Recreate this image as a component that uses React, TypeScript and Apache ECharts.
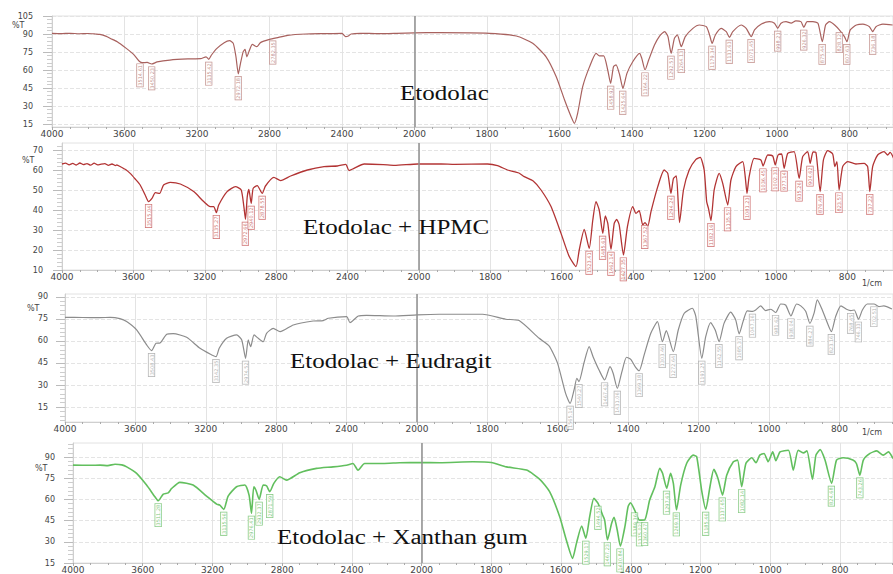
import React, { useEffect, useRef } from "react";
import * as echarts from "echarts";

// ---- Wavenumber (1/cm) vs %T ----
const etodolac: [number, number][] = [
  [4000, 90.5], [3950, 90.3], [3900, 90.6], [3850, 90.2], [3800, 90.4], [3760, 90], [3736, 89.7], [3700, 88], [3680, 86.4],
  [3640, 83.6], [3590, 78], [3550, 73], [3520, 67.5], [3500, 66.1], [3475, 66.3], [3450, 65], [3420, 66.7], [3350, 68.3],
  [3250, 69.2], [3180, 69.4], [3150, 71], [3135, 68.9], [3120, 72.5], [3090, 78], [3050, 82.8], [3020, 84.4], [3000, 82.2],
  [2985, 71], [2972, 56.7], [2960, 65.6], [2945, 75.3], [2935, 77.2], [2925, 71], [2910, 76.7], [2895, 81.4], [2870, 79.4],
  [2850, 82.8], [2800, 85.5], [2750, 87.2], [2700, 88.9], [2600, 90], [2500, 90.3], [2400, 90.6], [2380, 87.8], [2365, 88.3],
  [2350, 90], [2300, 90.6], [2200, 90.3], [2100, 90.6], [2000, 91],
  [1931, 91.1], [1793, 90.6], [1719, 88.3], [1674, 82.2], [1637, 71], [1609, 54.4], [1586, 35], [1568, 21.1], [1559, 15.6],
  [1550, 23.9], [1536, 46.1], [1517, 62.8], [1499, 73.9], [1490, 71.7], [1478, 71.7], [1467, 60], [1459, 48.9], [1451, 62.8],
  [1444, 64.2], [1434, 55.8], [1425, 44.7], [1414, 57.2], [1398, 66.9], [1379, 73.9], [1373, 69.7], [1364, 60], [1354, 68.3],
  [1338, 80.8], [1324, 88.3], [1310, 92], [1301, 88], [1292, 73.9], [1283, 86.4], [1275, 89.2], [1264, 79.4], [1253, 87.8],
  [1232, 94.7], [1214, 97.5], [1195, 96.1], [1186, 89.2], [1179, 82.2], [1170, 89.2], [1154, 94.7], [1140, 92], [1131, 87.2],
  [1122, 92], [1099, 97.5], [1085, 94.7], [1071, 87.8], [1062, 93.4], [1043, 98.3], [1021, 100.3], [1007, 99], [998, 94.7],
  [989, 99], [975, 100.3], [961, 99], [948, 101], [934, 100.3], [926, 95.6], [917, 100.3], [901, 100.3], [887, 99],
  [875, 83.6], [866, 97.5], [855, 100.3], [841, 97.5], [828, 93.4], [814, 87.8], [807, 83.6], [798, 93.4], [781, 97.5],
  [763, 98.3], [745, 96.1], [736, 92], [727, 96.1], [708, 98.3], [681, 97.5],
];

const etodolacHpmc: [number, number][] = [
  [4000, 63], [3980, 63.4], [3960, 62.6], [3940, 63.3], [3920, 62.5], [3900, 63.5], [3880, 62.7], [3860, 63.2], [3840, 62.4],
  [3820, 63.4], [3800, 62.6], [3787, 62.8], [3760, 63.2], [3740, 62.3], [3720, 63], [3700, 62.2], [3693, 62.5], [3670, 61.5],
  [3656, 60.8], [3640, 60], [3618, 58.3], [3590, 55.5], [3562, 52.5], [3534, 47.5], [3515, 44.2], [3496, 45.8], [3477, 48.7],
  [3453, 48.3], [3431, 52.5], [3393, 53.8], [3337, 53], [3262, 49.2], [3206, 44.2], [3169, 41.7], [3150, 41.7], [3135, 38.7],
  [3122, 42.5], [3075, 49.2], [3028, 51.7], [2996, 50], [2981, 41.7], [2972, 35.3], [2962, 46.7], [2953, 50.3], [2940, 43.3],
  [2929, 50.8], [2906, 52.2], [2878, 48.3], [2860, 52], [2813, 56.3], [2775, 54.7], [2719, 57], [2625, 60], [2532, 61.7],
  [2457, 62], [2410, 62.8], [2392, 59.7], [2364, 60.8], [2307, 63], [2200, 62.7], [2138, 62.3], [2007, 63],
  [1938, 63], [1900, 62.8], [1808, 63], [1780, 62.2], [1752, 60], [1720, 58.5], [1705, 56.7], [1680, 54.5], [1658, 50],
  [1630, 41.7], [1602, 28.3], [1579, 16.7], [1560, 11.7], [1551, 20], [1537, 30.3], [1523, 20.8], [1513, 35], [1504, 44.2],
  [1495, 40], [1485, 28.3], [1478, 37], [1471, 33.3], [1462, 20.3], [1453, 33.3], [1446, 35.3], [1439, 32.5], [1427, 17.5],
  [1416, 31.7], [1401, 41.7], [1392, 38.3], [1383, 39.7], [1373, 32.5], [1367, 33.7], [1359, 32], [1350, 39.2], [1331, 51.7],
  [1313, 60], [1303, 58.3], [1294, 48.3], [1287, 55.8], [1279, 57], [1270, 33.7], [1259, 50], [1243, 60], [1224, 65.3],
  [1212, 66.3], [1201, 60], [1194, 44.2], [1189, 40.8], [1182, 34.7], [1173, 50], [1159, 58.3], [1149, 53.3], [1135, 42.5],
  [1126, 55], [1112, 61.7], [1093, 64.2], [1086, 56.7], [1081, 48.3], [1075, 56.7], [1061, 65.8], [1042, 65], [1036, 62],
  [1023, 67.5], [1009, 67], [1002, 62.5], [994, 67.5], [984, 68], [977, 60.8], [967, 68.3], [949, 69.2], [935, 55.8],
  [925, 66.7], [911, 69.2], [904, 63.3], [896, 69], [888, 68.8], [876, 49.2], [867, 65], [855, 69.7], [841, 68], [835, 61.7],
  [829, 64.2], [823, 50], [813, 61.7], [799, 64.2], [776, 63], [753, 63.3], [743, 61.7], [737, 49.2], [729, 61.7], [715, 67.5],
  [697, 69.2], [687, 67.5], [680, 68.8], [670, 65.8],
];

const etodolacEudragit: [number, number][] = [
  [4000, 76.1], [3900, 76], [3801, 75.9], [3744, 76.1], [3688, 75.2], [3650, 73.2], [3593, 67.5], [3536, 57.3], [3508, 53.4],
  [3483, 58.4], [3460, 58.6], [3422, 64.6], [3385, 65], [3309, 62.5], [3233, 55], [3176, 51.1], [3142, 49.3], [3124, 55],
  [3082, 61.8], [3025, 64.1], [2996, 60.7], [2974, 48.2], [2959, 60.7], [2945, 56.1], [2926, 64.1], [2902, 61.8], [2874, 59.5],
  [2855, 65.2], [2817, 68.6], [2778, 66.3], [2703, 70.9], [2590, 73.6], [2533, 73.9], [2504, 75.5], [2400, 76.6], [2381, 72.5],
  [2334, 77], [2287, 77.5], [2135, 77], [2000, 77.8],
  [1937, 78.2], [1814, 78.2], [1748, 74.8], [1710, 73.9], [1653, 61.8], [1625, 56.6], [1601, 44.9], [1578, 24.3], [1565, 17.5],
  [1554, 26.6], [1546, 34.6], [1540, 32.3], [1526, 44.9], [1511, 56.1], [1500, 49.3], [1483, 40.2], [1467, 33.4], [1452, 42.5],
  [1443, 38], [1431, 27.7], [1418, 39.1], [1405, 48.9], [1393, 47.5], [1379, 42], [1369, 39.7], [1355, 50.4], [1336, 65.2],
  [1317, 73.2], [1303, 59.5], [1292, 67], [1272, 52.7], [1258, 67.5], [1241, 78.9], [1218, 82.3], [1208, 76.6], [1191, 48.2],
  [1180, 62.9], [1166, 72.5], [1153, 67.5], [1142, 59.5], [1128, 72], [1109, 79.6], [1095, 74.5], [1085, 64.8], [1074, 73.2],
  [1062, 80.5], [1047, 80.2], [1038, 81.1], [1024, 83.9], [1010, 80.7], [995, 81.6], [981, 79.4], [967, 85.2], [953, 84.5],
  [938, 77], [922, 85.2], [910, 83.9], [896, 80.2], [884, 72], [872, 79.1], [863, 88], [850, 81.8], [836, 73.2], [823, 66.3],
  [811, 76.6], [796, 83.9], [780, 81.6], [768, 80.7], [758, 81.1], [746, 74.8], [735, 81.1], [721, 85.2], [702, 85.2],
  [688, 83.4], [674, 83.9], [651, 81.8],
];

const etodolacXanthan: [number, number][] = [
  [4000, 84.3], [3900, 84.2], [3845, 84.3], [3800, 84], [3759, 85], [3720, 84.5], [3692, 83.1], [3635, 78.5], [3578, 70.2],
  [3530, 61.9], [3511, 59.1], [3482, 63.8], [3454, 64.7], [3434, 67.8], [3387, 72.1], [3311, 70.2], [3234, 62.4], [3176, 56.7],
  [3158, 56], [3135, 53], [3110, 62.4], [3062, 69], [3014, 70.2], [2990, 63.1], [2976, 50.2], [2963, 69], [2951, 66.7],
  [2932, 60.1], [2909, 70.2], [2890, 69.7], [2871, 65.5], [2848, 71.4], [2814, 76.1], [2775, 73.7], [2699, 78.9], [2603, 82],
  [2508, 83.1], [2431, 84.3], [2394, 85.5], [2365, 80.8], [2327, 85.5], [2222, 85.5], [2126, 86], [2012, 86.2],
  [1948, 86], [1853, 86.7], [1800, 86.2], [1757, 83.1], [1699, 80.8], [1661, 74.2], [1633, 65.5], [1604, 47.8], [1585, 31.3],
  [1567, 18.3], [1556, 28.9], [1541, 41.2], [1529, 32.5], [1518, 47.8], [1506, 60.8], [1494, 57.2], [1481, 49], [1475, 45.4],
  [1467, 31.3], [1455, 43.1], [1448, 47.3], [1439, 38.4], [1430, 27], [1417, 40.7], [1408, 54.8], [1401, 57.7], [1389, 52.5],
  [1375, 45.4], [1360, 45.6], [1346, 59.6], [1331, 69], [1317, 82], [1309, 78.5], [1297, 67.9], [1286, 78.5], [1278, 71.4],
  [1269, 52.5], [1257, 70.2], [1240, 85.5], [1221, 91.4], [1211, 90.3], [1197, 66.7], [1185, 53], [1173, 69], [1162, 81.3],
  [1150, 74.9], [1137, 63.1], [1125, 77.2], [1106, 86.7], [1094, 87.9], [1082, 69], [1070, 85.5], [1053, 89.5], [1041, 86],
  [1030, 91.4], [1018, 92.6], [1006, 86.7], [993, 93.7], [984, 87.4], [972, 93.7], [948, 94.9], [934, 80.8], [920, 94.9],
  [905, 93], [895, 94.4], [879, 74.2], [869, 91.4], [857, 95.3], [843, 87.9], [824, 71.4], [810, 87.9], [791, 89.5],
  [763, 88], [753, 85.5], [743, 77.2], [733, 87.9], [714, 92.6], [695, 94.4], [676, 91.4], [661, 93.7], [648, 89],
];

// ---- Peak annotations: [wavenumber, %T at the band] ----
const peaksEtodolac: [number, number][] = [
  [3514.61, 67.5], [3450.23, 65], [3135.42, 68.9], [2972.18, 56.7], [2782.35, 86.5],
  [1458.92, 48.9], [1425.64, 44.7], [1364.22, 60], [1292.51, 73.9], [1264.13, 79.4], [1179.34, 82.2], [1131.63, 87.2],
  [1071.45, 87.8], [998.21, 94.7], [926.32, 95.6], [875.44, 83.6], [828.12, 93.4], [807.63, 83.6], [736.18, 92],
];
const peaksHpmc: [number, number][] = [
  [3515.04, 44.2], [3135.27, 38.7], [2972.66, 35.3], [2940.12, 43.3], [2878.55, 48.3],
  [1523.41, 20.8], [1485.63, 28.3], [1462.14, 20.3], [1427.35, 17.5], [1367.52, 33.7], [1294.24, 48.3], [1182.16, 34.7],
  [1135.57, 42.5], [1081.23, 48.3], [1036.45, 62], [1002.31, 62.5], [977.14, 60.8], [935.26, 55.8], [904.62, 63.3],
  [876.48, 49.2], [823.57, 50], [737.22, 49.2],
];
const peaksEudragit: [number, number][] = [
  [3508.43, 53.4], [3142.35, 49.3], [2974.52, 48.2],
  [1565.14, 17.5], [1540.27, 32.3], [1467.43, 33.4], [1431.06, 27.7], [1369.18, 39.7], [1303.46, 59.5], [1272.64, 52.7],
  [1191.25, 48.2], [1142.55, 59.5], [1085.37, 64.8], [1047.16, 80.2], [981.62, 79.4], [938.04, 77], [884.27, 72],
  [823.16, 66.3], [768.45, 80.7], [746.33, 74.8], [702.51, 85.2],
];
const peaksXanthan: [number, number][] = [
  [3511.28, 59.1], [3135.56, 53], [2976.41, 50.2], [2932.37, 60.1], [2871.59, 65.5],
  [1529.17, 32.5], [1494.52, 57.2], [1467.23, 31.3], [1430.84, 27], [1389.36, 52.5], [1375.02, 45.4], [1360.47, 45.6],
  [1297.63, 67.9], [1269.38, 52.5], [1185.46, 53], [1137.65, 63.1], [1082.14, 69], [824.68, 71.4], [743.26, 77.2],
];

const panelTitles = ["Etodolac", "Etodolac + HPMC", "Etodolac + Eudragit", "Etodolac + Xanthan gum"];

// %T tick labels of each panel
const yTicks1 = [15, 30, 45, 60, 75, 90, 105];
const yTicks2 = [10, 20, 30, 40, 50, 60, 70];
const yTicks3 = [15, 30, 45, 60, 75, 90];
const yTicks4 = [15, 30, 45, 60, 75, 90];

// Shimadzu-style split scale: 4000-2000 compressed 2:1, below 2000 expanded
const toP = (w: number) => (w >= 2000 ? (4000 - w) / 2 : 3000 - w);
const toW = (p: number) => (p <= 1000 ? 4000 - 2 * p : 3000 - p);

const panels = [
  { data: etodolac, peaks: peaksEtodolac, ticks: yTicks1, color: "#a8615e", lab: "#b0706c", lw: 1.2,
    left: 52, top: 16, height: 111, yMin: 12.5, yMax: 105, pMax: 2320, yMargin: 19,
    tx: 400, ty: 93, px: 12, py: 25, unit: null as null | number },
  { data: etodolacHpmc, peaks: peaksHpmc, ticks: yTicks2, color: "#b23434", lab: "#c04848", lw: 1.3,
    left: 62, top: 143, height: 127, yMin: 10, yMax: 73.5, pMax: 2328, yMargin: 19,
    tx: 303, ty: 227, px: 22, py: 160, unit: 283 },
  { data: etodolacEudragit, peaks: peaksEudragit, ticks: yTicks3, color: "#8c8c8c", lab: "#9a9a9a", lw: 1.2,
    left: 65, top: 294, height: 128, yMin: 4.8, yMax: 92, pMax: 2352, yMargin: 17,
    tx: 290, ty: 361, px: 27, py: 308, unit: 432 },
  { data: etodolacXanthan, peaks: peaksXanthan, ticks: yTicks4, color: "#62bf5e", lab: "#5cb858", lw: 1.6,
    left: 73, top: 443, height: 120, yMin: 15, yMax: 100, pMax: 2352, yMargin: 18,
    tx: 277, ty: 537, px: 35, py: 468, unit: null as null | number },
];

// minor tick positions: five subdivisions of each major step, within the axis range
const minorOf = (ticks: number[], lo: number, hi: number) => {
  const step = (ticks[1] - ticks[0]) / 5;
  const out: number[] = [];
  let v = ticks[0];
  while (v - step >= lo - 1e-9) v -= step;
  for (; v <= hi + 1e-9; v += step) {
    const r = Math.round(v * 100) / 100;
    if (!ticks.some((t) => Math.abs(t - r) < 1e-6)) out.push(r);
  }
  return out;
};

export default function App() {
  const ref = useRef<HTMLDivElement>(null);
  useEffect(() => {
    document.body.style.margin = "0";
    if (!ref.current) return;
    const chart = echarts.init(ref.current, undefined, { renderer: "svg" });
    const axisFont = { color: "#444", fontFamily: "DejaVu Sans" };
    const option: any = {
      animation: false,
      backgroundColor: "#ffffff",
      grid: panels.map((p) => ({
        left: p.left, right: 0, top: p.top, height: p.height,
        show: true, borderColor: "#e2e2e2", borderWidth: 1,
      })),
      xAxis: panels.map((p, i) => ({
        type: "value", gridIndex: i, min: 0, max: p.pMax, interval: 200,
        axisLine: { show: true, onZero: false, lineStyle: { color: "#cfcfcf" } },
        axisTick: { show: true, length: 3, lineStyle: { color: "#aaa" } },
        minorTick: { show: true, splitNumber: 4, length: 2, lineStyle: { color: "#aaa" } },
        axisLabel: { ...axisFont, fontSize: 9, margin: 2, showMaxLabel: false, formatter: (v: number) => String(toW(v)) },
        splitLine: { show: true, lineStyle: { color: "#e3e3e3", width: 1 } },
      })),
      yAxis: [
        ...panels.map((p, i) => ({
          type: "value", gridIndex: i, position: "left", min: p.yMin, max: p.yMax,
          axisLine: { show: true, onZero: false, lineStyle: { color: "#cfcfcf" } },
          axisTick: { show: true, length: 9, customValues: p.ticks, lineStyle: { color: "#bbb" } },
          minorTick: { show: false },
          axisLabel: { ...axisFont, fontSize: 8, margin: p.yMargin, customValues: p.ticks },
          splitLine: { show: true, lineStyle: { type: "dashed", color: "#e4e4e4" } },
        })),
        ...panels.map((p, i) => {
          const minor = minorOf(p.ticks, p.yMin, p.yMax);
          return {
            type: "value", gridIndex: i, position: "left", offset: 0, min: p.yMin, max: p.yMax,
            axisLine: { show: false, onZero: false },
            axisTick: { show: true, length: 5, customValues: minor, lineStyle: { color: "#cdcdcd" } },
            axisLabel: { show: false, customValues: minor },
            splitLine: { show: false },
          };
        }),
      ],
      series: panels.flatMap((p, i) => [
        {
          type: "line", xAxisIndex: i, yAxisIndex: i, showSymbol: false, smooth: 0.2,
          data: p.data.map(([w, v]) => [toP(w), v]),
          lineStyle: { color: p.color, width: p.lw },
          markLine: {
            silent: true, symbol: ["none", "none"], label: { show: false },
            lineStyle: { color: "#8f8f8f", width: 1.5, type: "solid" },
            data: [{ xAxis: toP(2000) }],
          },
          z: 3,
        },
        {
          type: "scatter", xAxisIndex: i, yAxisIndex: i, symbolSize: 1,
          itemStyle: { color: "rgba(0,0,0,0)" },
          data: p.peaks.map(([w, v]) => [toP(w), v, w.toFixed(2)]),
          label: {
            show: true, position: "inside", rotate: 90, align: "right", verticalAlign: "middle",
            offset: [-3, 0], fontSize: 5, fontFamily: "DejaVu Sans", color: p.lab,
            borderColor: p.lab, borderWidth: 0.6, padding: [1, 1, 0, 1], backgroundColor: "#fff",
            formatter: (prm: any) => prm.value[2],
          },
          z: 4,
        },
      ]),
      graphic: [
        ...panels.map((p, i) => ({
          type: "text", x: p.tx, y: p.ty, scaleX: 1.25, z: 10,
          style: { text: panelTitles[i], font: '20px "Liberation Serif"', fill: "#111", textVerticalAlign: "middle" },
        })),
        ...panels.map((p) => ({
          type: "text", x: p.px, y: p.py, z: 10,
          style: { text: "%T", font: '8px "DejaVu Sans"', fill: "#444", textVerticalAlign: "middle" },
        })),
        ...panels.filter((p) => p.unit !== null).map((p) => ({
          type: "text", x: 862, y: p.unit as number, z: 10,
          style: { text: "1/cm", font: '8px "DejaVu Sans"', fill: "#444", textVerticalAlign: "middle" },
        })),
      ],
    };
    chart.setOption(option);
    return () => chart.dispose();
  }, []);
  return <div ref={ref} style={{ width: 893, height: 574 }} />;
}
